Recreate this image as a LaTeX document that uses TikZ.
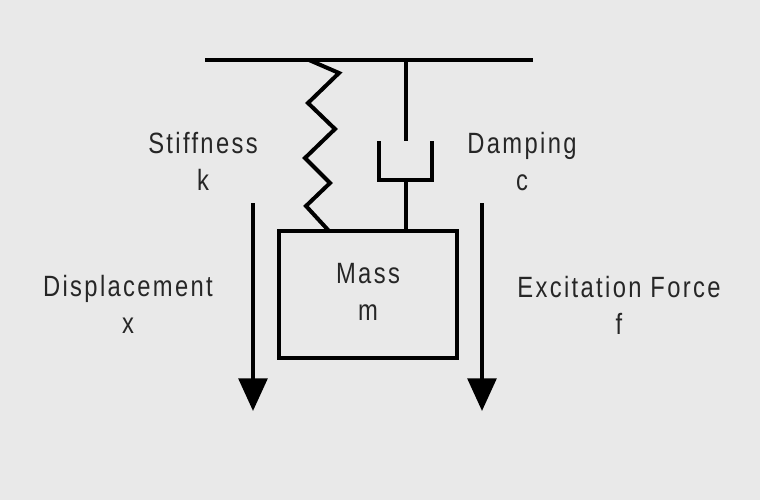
\documentclass[tikz,border=0pt]{standalone}
\usepackage{fontspec}
\setmainfont[FakeStretch=0.81,LetterSpace=8]{Liberation Sans}
\usetikzlibrary{arrows.meta}

\begin{document}
\begin{tikzpicture}[
  x=0.75pt, y=-0.75pt,
  bar/.style={line width=3pt, line join=miter},
  txt/.style={align=center, font=\fontsize{22}{27.75}\selectfont, text=black!85, inner sep=0pt},
  massbox/.style={rectangle, draw, line width=3pt, minimum width=133.5pt, minimum height=95.25pt},
  arr/.style={-{Triangle[length=24.5pt, width=21.5pt]}, line width=3pt},
]
  \useasboundingbox[fill=black!8.5] (0,0) rectangle (760,500);

  % Support and mass
  \coordinate (wallL) at (205,60);
  \coordinate (wallR) at (533,60);
  \node[massbox] (mass) at (368,294.5) {};

  % Labels
  \node[txt] (masstxt) at (368,292) {Mass\\m};
  \node[txt] (stiff) at (203,161.5) {Stiffness\\k};
  \node[txt] (damp) at (522,161.5) {Damping\\c};
  \node[txt] (disp) at (128,304.5) {Displacement\\x};
  \node[txt] (force) at (619,305) {Excitation Force\\f};

  % Damper points
  \coordinate (rodtop) at (406,60);
  \coordinate (rodend) at (406,141);
  \coordinate (cupL) at (379,141);
  \coordinate (cupR) at (432,141);
  \coordinate (cupbase) at (406,180);

  % Arrow ends
  \coordinate (dispA) at (253,203);
  \coordinate (dispB) at (253,411);
  \coordinate (forceA) at (482,203);
  \coordinate (forceB) at (482,411);

  % Lines
  \draw[bar] (wallL) -- (wallR);
  \draw[bar] (309,60) -- (339,73) -- (308,103) -- (335,129) -- (305,158) -- (330,183) -- (306,206) -- (329,231);
  \draw[bar] (rodtop) -- (rodend);
  \draw[bar] (cupL) |- (cupbase) -| (cupR);
  \draw[bar] (cupbase) -- (cupbase |- mass.north);

  % Arrows
  \draw[arr] (dispA) -- (dispB);
  \draw[arr] (forceA) -- (forceB);
\end{tikzpicture}
\end{document}
